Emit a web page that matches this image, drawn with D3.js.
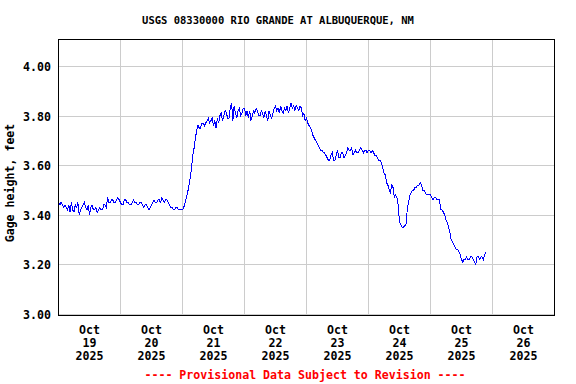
<!DOCTYPE html>
<html>
<head>
<meta charset="utf-8">
<script src="https://cdn.jsdelivr.net/npm/d3@7"></script>
<style>
  html, body { margin: 0; padding: 0; background: #fff; }
  svg { display: block; }
  text { font-family: "DejaVu Sans Mono", "Liberation Mono", monospace; font-weight: bold; }
</style>
</head>
<body>
<svg id="chart" width="576" height="384"></svg>
<script>
// ---- Data (half-hourly gage height, feet) ----
const title = "USGS 08330000 RIO GRANDE AT ALBUQUERQUE, NM";
const yAxisTitle = "Gage height, feet";
const footnote = "---- Provisional Data Subject to Revision ----";
const dayLabels = ["19", "20", "21", "22", "23", "24", "25", "26"];
const monthLabel = "Oct";
const yearLabel = "2025";
const yTicks = [3.00, 3.20, 3.40, 3.60, 3.80, 4.00];

const oct19 = [3.45, 3.44, 3.45, 3.44, 3.43, 3.44, 3.43, 3.42, 3.44, 3.41, 3.45, 3.42,
               3.41, 3.44, 3.43, 3.45, 3.40, 3.42, 3.43, 3.44, 3.45, 3.43, 3.42, 3.44,
               3.40, 3.43, 3.44, 3.42, 3.42, 3.43, 3.41, 3.42, 3.43, 3.42, 3.42, 3.44,
               3.44, 3.43, 3.47, 3.45, 3.45, 3.46, 3.46, 3.45, 3.45, 3.46, 3.47, 3.46];
const oct20 = [3.45, 3.44, 3.44, 3.46, 3.46, 3.45, 3.45, 3.44, 3.44, 3.45, 3.46, 3.45,
               3.45, 3.44, 3.44, 3.45, 3.45, 3.44, 3.43, 3.44, 3.44, 3.43, 3.42, 3.43,
               3.44, 3.45, 3.46, 3.45, 3.45, 3.46, 3.46, 3.45, 3.47, 3.46, 3.45, 3.46,
               3.46, 3.45, 3.44, 3.43, 3.43, 3.42, 3.42, 3.43, 3.43, 3.42, 3.42, 3.42];
const oct21 = [3.42, 3.43, 3.45, 3.47, 3.49, 3.52, 3.55, 3.59, 3.64, 3.67, 3.71, 3.74,
               3.76, 3.75, 3.75, 3.77, 3.77, 3.76, 3.77, 3.78, 3.79, 3.77, 3.78, 3.79,
               3.76, 3.78, 3.75, 3.79, 3.77, 3.80, 3.81, 3.78, 3.80, 3.82, 3.81, 3.79,
               3.79, 3.83, 3.85, 3.78, 3.84, 3.81, 3.79, 3.82, 3.83, 3.80, 3.81, 3.83];
const oct22 = [3.83, 3.80, 3.82, 3.79, 3.82, 3.78, 3.80, 3.82, 3.81, 3.83, 3.82, 3.80,
               3.80, 3.82, 3.81, 3.79, 3.82, 3.80, 3.78, 3.82, 3.80, 3.79, 3.81, 3.83,
               3.84, 3.82, 3.83, 3.81, 3.84, 3.82, 3.81, 3.83, 3.82, 3.84, 3.81, 3.83,
               3.85, 3.83, 3.84, 3.82, 3.84, 3.83, 3.82, 3.84, 3.83, 3.80, 3.81, 3.78];
const oct23 = [3.79, 3.77, 3.76, 3.75, 3.74, 3.72, 3.71, 3.70, 3.69, 3.68, 3.67, 3.66,
               3.66, 3.65, 3.65, 3.64, 3.63, 3.62, 3.62, 3.64, 3.65, 3.62, 3.62, 3.64,
               3.66, 3.63, 3.63, 3.65, 3.65, 3.63, 3.64, 3.65, 3.67, 3.66, 3.66, 3.67,
               3.64, 3.65, 3.66, 3.65, 3.65, 3.66, 3.67, 3.66, 3.65, 3.66, 3.66, 3.65];
const oct24 = [3.66, 3.66, 3.65, 3.66, 3.65, 3.64, 3.64, 3.63, 3.62, 3.62, 3.61, 3.59,
               3.57, 3.56, 3.53, 3.52, 3.50, 3.49, 3.52, 3.51, 3.47, 3.48, 3.47, 3.44,
               3.37, 3.36, 3.35, 3.35, 3.355, 3.36, 3.42, 3.45, 3.48, 3.49, 3.50, 3.50,
               3.51, 3.51, 3.52, 3.52, 3.53, 3.52, 3.50, 3.50, 3.49, 3.48, 3.48, 3.48];
const oct25 = [3.48, 3.47, 3.46, 3.47, 3.47, 3.46, 3.46, 3.46, 3.42, 3.42, 3.41, 3.40,
               3.38, 3.37, 3.35, 3.33, 3.30, 3.29, 3.28, 3.27, 3.26, 3.26, 3.25, 3.24,
               3.22, 3.21, 3.22, 3.22, 3.23, 3.22, 3.22, 3.23, 3.23, 3.22, 3.21, 3.20,
               3.23, 3.23, 3.22, 3.23, 3.23, 3.22, 3.24, 3.25];

const dailySeries = [oct19, oct20, oct21, oct22, oct23, oct24, oct25];

// Build time series (30-minute steps)
const startDate = new Date(2025, 9, 19, 0, 0, 0);
const data = [];
dailySeries.forEach((vals, di) => {
  vals.forEach((v, i) => {
    data.push({ t: new Date(2025, 9, 19 + di, Math.floor(i / 2), (i % 2) * 30, 0), v: v });
  });
});

const svg = d3.select("#chart");

const x = d3.scaleTime()
  .domain([startDate, new Date(2025, 9, 27, 0, 0, 0)])
  .range([58.5, 554.5]);
const y = d3.scaleLinear()
  .domain([2.992, 4.105])
  .range([316, 40]);

// Gridlines
const dayTicks = d3.timeDay.range(new Date(2025, 9, 20), new Date(2025, 9, 27));
svg.append("g").selectAll("line")
  .data(dayTicks).join("line")
  .attr("x1", d => Math.round(x(d)) - 0.5).attr("x2", d => Math.round(x(d)) - 0.5)
  .attr("y1", 40).attr("y2", 315)
  .attr("stroke", "#cccccc").attr("stroke-width", 1);

svg.append("g").selectAll("line")
  .data(yTicks).join("line")
  .attr("x1", 59).attr("x2", 554)
  .attr("y1", d => Math.round(y(d)) + 0.5).attr("y2", d => Math.round(y(d)) + 0.5)
  .attr("stroke", "#cccccc").attr("stroke-width", 1);

// Data line
const line = d3.line().x(d => x(d.t)).y(d => y(d.v));
svg.append("path")
  .datum(data)
  .attr("d", line)
  .attr("fill", "none")
  .attr("stroke", "#0000ff")
  .attr("stroke-width", 1)
  .attr("shape-rendering", "crispEdges");

// Frame
svg.append("rect")
  .attr("x", 58.5).attr("y", 39.5)
  .attr("width", 496).attr("height", 276)
  .attr("fill", "none").attr("stroke", "#000").attr("stroke-width", 1);

// Y tick labels
svg.append("g").selectAll("text")
  .data(yTicks).join("text")
  .attr("x", 51)
  .attr("y", d => Math.round(y(d)) + 4.5)
  .attr("text-anchor", "end")
  .attr("font-size", "11.6px")
  .attr("fill", "#000")
  .text(d => d3.format(".2f")(d));

// X labels at noon of each day
const noonDates = dayLabels.map((d, i) => new Date(2025, 9, 19 + i, 12, 0, 0));
const xl = svg.append("g").selectAll("g")
  .data(noonDates).join("g")
  .attr("transform", d => `translate(${x(d)},0)`);
xl.append("text").attr("y", 334).attr("text-anchor", "middle").attr("font-size", "11.6px").text(monthLabel);
xl.append("text").attr("y", 347).attr("text-anchor", "middle").attr("font-size", "11.6px").text((d, i) => dayLabels[i]);
xl.append("text").attr("y", 360).attr("text-anchor", "middle").attr("font-size", "11.6px").text(yearLabel);

// Title
svg.append("text")
  .attr("x", 278).attr("y", 24)
  .attr("text-anchor", "middle")
  .attr("font-size", "10.5px")
  .text(title);

// Y axis title
svg.append("text")
  .attr("transform", "translate(14,183) rotate(-90)")
  .attr("text-anchor", "middle")
  .attr("font-size", "11.6px")
  .text(yAxisTitle);

// Footnote
svg.append("text")
  .attr("x", 305).attr("y", 379)
  .attr("text-anchor", "middle")
  .attr("font-size", "11.6px")
  .attr("fill", "#ff0000")
  .text(footnote);
</script>
</body>
</html>
